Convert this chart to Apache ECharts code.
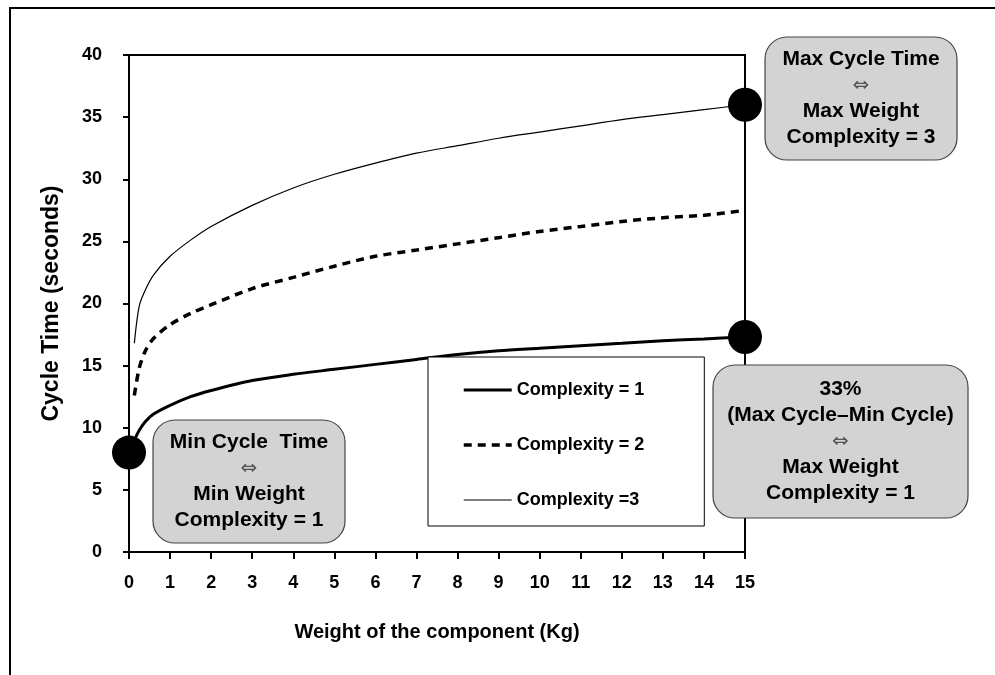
<!DOCTYPE html>
<html>
<head>
<meta charset="utf-8">
<script src="https://cdn.jsdelivr.net/npm/echarts@6/dist/echarts.min.js"></script>
<style>
  html, body { margin: 0; padding: 0; background: #fff; }
  #chart { width: 995px; height: 675px; }
</style>
</head>
<body>
<div id="chart"></div>
<script>
// weight of the component (Kg), shared by the three curves
const weights = [0, 0.13, 0.25, 0.4, 0.6, 1, 1.5, 2, 3, 4, 5, 6, 7, 8, 9, 10, 11, 12, 13, 14, 15];
// cycle time (seconds) per complexity
const complexity1 = [8.0, 9.0, 9.8, 10.5, 11.1, 11.8, 12.5, 13.0, 13.8, 14.3, 14.7, 15.1, 15.5, 15.9, 16.2, 16.4, 16.6, 16.8, 17.0, 17.15, 17.3];
const complexity2 = [null, 12.6, 14.8, 16.2, 17.2, 18.3, 19.2, 19.9, 21.2, 22.1, 23.0, 23.8, 24.3, 24.8, 25.3, 25.8, 26.2, 26.6, 26.9, 27.1, 27.5];
const complexity3 = [null, 16.8, 19.8, 21.1, 22.3, 23.8, 25.1, 26.2, 27.9, 29.3, 30.4, 31.3, 32.1, 32.7, 33.3, 33.8, 34.3, 34.8, 35.2, 35.6, 36.0];
const seriesNames = ['Complexity = 1', 'Complexity = 2', 'Complexity =3'];

// the three highlighted points (big black dots)
const markerWeights = [0, 15, 15];
const markerCycles = [8, 17.3, 36];

const xTicks = { min: 0, max: 15, interval: 1 };
const yTicks = { min: 0, max: 40, interval: 5 };

const font = '"Liberation Sans", Arial, sans-serif';

// line looks, used by the series and by their legend entries
const lineLooks = [
  { color: '#000', width: 3 },
  { color: '#000', width: 3.5, type: [8, 6] },
  { color: '#000', width: 1.2 }
];

const pairs = (xs, ys) => xs.map((x, i) => [x, ys[i]]);

// rounded grey note with centered lines
function note(x, y, w, h, lines) {
  const text = lines.map(l => l === '⇔' ? '{a|⇔}' : '{b|' + l + '}').join('\n');
  return {
    type: 'group',
    z: 100,
    children: [
      {
        type: 'rect',
        shape: { x: x, y: y, width: w, height: h, r: 22 },
        style: { fill: '#d3d3d3', stroke: '#444', lineWidth: 1.2 }
      },
      {
        type: 'text',
        x: x + w / 2,
        y: y + h / 2,
        style: {
          text: text,
          align: 'center',
          verticalAlign: 'middle',
          rich: {
            b: { fontFamily: font, fontWeight: 'bold', fontSize: 21, lineHeight: 26, fill: '#000', align: 'center' },
            a: { fontFamily: '"DejaVu Sans", sans-serif', fontSize: 20, lineHeight: 26, fill: '#555', align: 'center' }
          }
        }
      }
    ]
  };
}

const chart = echarts.init(document.getElementById('chart'));

chart.setOption({
  animation: false,
  backgroundColor: '#fff',
  textStyle: { fontFamily: font },
  grid: {
    left: 129, right: 250, top: 55, bottom: 123,
    show: true, borderColor: '#000', borderWidth: 2
  },
  legend: {
    data: seriesNames.map((n, i) => ({ name: n, lineStyle: lineLooks[i] })),
    orient: 'vertical',
    left: 428,
    top: 357,
    padding: [24, 60, 17, 34],
    itemGap: 37,
    itemWidth: 48,
    itemHeight: 14,
    backgroundColor: '#fff',
    borderColor: '#000',
    borderWidth: 1,
    itemStyle: { opacity: 0 },
    textStyle: { fontFamily: font, fontWeight: 'bold', fontSize: 18, color: '#000' }
  },
  xAxis: {
    type: 'value',
    min: xTicks.min, max: xTicks.max, interval: xTicks.interval,
    name: 'Weight of the component (Kg)',
    nameLocation: 'middle',
    nameGap: 70,
    nameTextStyle: { fontFamily: font, fontWeight: 'bold', fontSize: 20, color: '#000' },
    axisLine: { lineStyle: { color: '#000', width: 2 } },
    axisTick: { length: 7, lineStyle: { color: '#000', width: 2 } },
    axisLabel: { margin: 22, fontFamily: font, fontWeight: 'bold', fontSize: 18, color: '#000' },
    splitLine: { show: false }
  },
  yAxis: {
    type: 'value',
    min: yTicks.min, max: yTicks.max, interval: yTicks.interval,
    name: 'Cycle Time (seconds)',
    nameLocation: 'middle',
    nameGap: 66,
    nameTextStyle: { fontFamily: font, fontWeight: 'bold', fontSize: 23, color: '#000' },
    axisLine: { lineStyle: { color: '#000', width: 2 } },
    axisTick: { length: 6, lineStyle: { color: '#000', width: 2 } },
    axisLabel: { margin: 27, fontFamily: font, fontWeight: 'bold', fontSize: 18, color: '#000' },
    splitLine: { show: false }
  },
  series: [
    {
      name: seriesNames[0], type: 'line', data: pairs(weights, complexity1),
      symbol: 'none', smooth: 0.3,
      lineStyle: lineLooks[0], itemStyle: { color: '#000' }
    },
    {
      name: seriesNames[1], type: 'line', data: pairs(weights, complexity2),
      symbol: 'none', smooth: 0.3,
      lineStyle: lineLooks[1], itemStyle: { color: '#000' }
    },
    {
      name: seriesNames[2], type: 'line', data: pairs(weights, complexity3),
      symbol: 'none', smooth: 0.3,
      lineStyle: lineLooks[2], itemStyle: { color: '#000' }
    },
    {
      name: 'markers', type: 'scatter', data: pairs(markerWeights, markerCycles),
      symbolSize: 34, clip: false, z: 5,
      itemStyle: { color: '#000', opacity: 1 }
    }
  ],
  graphic: [
    // outer frame (only top and left edges show in the picture)
    {
      type: 'rect', z: 0,
      shape: { x: 10, y: 8, width: 1100, height: 800 },
      style: { fill: 'none', stroke: '#000', lineWidth: 2 }
    },
    note(153, 420, 192, 123, ['Min Cycle  Time', '⇔', 'Min Weight', 'Complexity = 1']),
    note(765, 37, 192, 123, ['Max Cycle Time', '⇔', 'Max Weight', 'Complexity = 3']),
    note(713, 365, 255, 153, ['33%', '(Max Cycle–Min Cycle)', '⇔', 'Max Weight', 'Complexity = 1'])
  ]
});
</script>
</body>
</html>
